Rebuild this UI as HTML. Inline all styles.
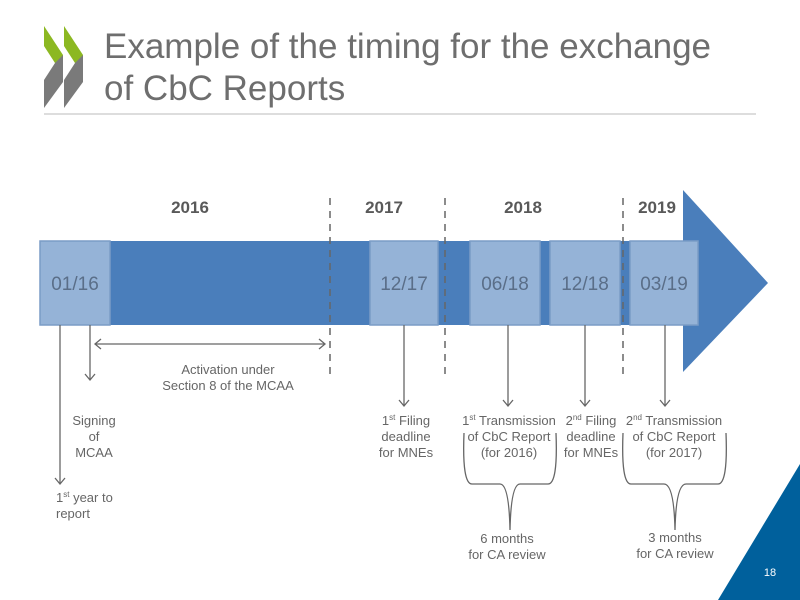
<!DOCTYPE html>
<html><head><meta charset="utf-8"><style>
body{margin:0;background:#fff;}
svg{display:block;font-family:"Liberation Sans",sans-serif;}
</style></head><body>
<svg width="800" height="600" viewBox="0 0 800 600">
<polygon points="44,26 63,55 63,61 55,63 44,46" fill="#8cb822"/>
<polygon points="64,26 83,55 83,61 75,63 64,46" fill="#8cb822"/>
<polygon points="63,55 63,82 44,108 44,80 55,63" fill="#7a7a7a"/>
<polygon points="83,55 83,82 64,108 64,80 75,63" fill="#7a7a7a"/>
<text x="104" y="58" font-size="35" fill="#6e6e6e">Example of the timing for the exchange</text>
<text x="104" y="100" font-size="35" fill="#6e6e6e">of CbC Reports</text>
<line x1="44" y1="114" x2="756" y2="114" stroke="#bbb" stroke-width="1"/>
<polygon points="718,600 800,464 800,600" fill="#00609c"/>
<text x="770" y="576" font-size="11" fill="#fff" text-anchor="middle">18</text>

<rect x="40" y="241" width="645" height="84" fill="#4a7ebb"/>
<polygon points="683,190 768,283 683,372" fill="#4a7ebb"/>
<g fill="#95b3d7" stroke="#7a9cc6" stroke-width="1.5">
<rect x="40" y="241" width="70" height="84"/>
<rect x="370" y="241" width="68" height="84"/>
<rect x="470" y="241" width="70" height="84"/>
<rect x="550" y="241" width="70" height="84"/>
<rect x="630" y="241" width="68" height="84"/>
</g>
<g font-size="19" fill="#5a6e88" text-anchor="middle">
<text x="75" y="290">01/16</text><text x="404" y="290">12/17</text>
<text x="505" y="290">06/18</text><text x="585" y="290">12/18</text><text x="664" y="290">03/19</text>
</g>
<g font-size="17" font-weight="bold" fill="#595959" text-anchor="middle">
<text x="190" y="213">2016</text><text x="384" y="213">2017</text><text x="523" y="213">2018</text><text x="657" y="213">2019</text>
</g>
<g stroke="#666" stroke-width="1.5" stroke-dasharray="7,6">
<line x1="330" y1="198" x2="330" y2="375"/><line x1="445" y1="198" x2="445" y2="375"/><line x1="623" y1="198" x2="623" y2="375"/>
</g>
<g stroke="#666" stroke-width="1.3" fill="none">
<line x1="60" y1="325" x2="60" y2="484"/><polyline points="55,478 60,484 65,478"/>
<line x1="90" y1="325" x2="90" y2="380"/><polyline points="85,374 90,380 95,374"/>
<line x1="95" y1="344" x2="325" y2="344"/><polyline points="101,339 95,344 101,349"/><polyline points="319,339 325,344 319,349"/>
<line x1="404" y1="325" x2="404" y2="406"/><polyline points="399,400 404,406 409,400"/>
<line x1="508" y1="325" x2="508" y2="406"/><polyline points="503,400 508,406 513,400"/>
<line x1="585" y1="325" x2="585" y2="406"/><polyline points="580,400 585,406 590,400"/>
<line x1="665" y1="325" x2="665" y2="406"/><polyline points="660,400 665,406 670,400"/>
<path d="M464,433 Q462,484 472,484 L500,484 Q509,484 510,530 Q511,484 520,484 L548,484 Q558,484 556,433"/>
<path d="M623,433 Q621,484 631,484 L664,484 Q674,484 675,530 Q676,484 686,484 L718,484 Q728,484 726,433"/>
</g>
<g font-size="13" fill="#666" text-anchor="middle">
<text x="228" y="374">Activation  under</text><text x="228" y="390">Section 8 of the MCAA</text>
<text x="94" y="425">Signing</text><text x="94" y="441">of</text><text x="94" y="457">MCAA</text>
<text x="406" y="425">1<tspan font-size="8" dy="-5">st</tspan><tspan dy="5"> Filing</tspan></text><text x="406" y="441">deadline</text><text x="406" y="457">for MNEs</text>
<text x="509" y="425">1<tspan font-size="8" dy="-5">st</tspan><tspan dy="5"> Transmission</tspan></text><text x="509" y="441">of CbC Report</text><text x="509" y="457">(for 2016)</text>
<text x="591" y="425">2<tspan font-size="8" dy="-5">nd</tspan><tspan dy="5"> Filing</tspan></text><text x="591" y="441">deadline</text><text x="591" y="457">for MNEs</text>
<text x="674" y="425">2<tspan font-size="8" dy="-5">nd</tspan><tspan dy="5"> Transmission</tspan></text><text x="674" y="441">of CbC Report</text><text x="674" y="457">(for 2017)</text>
<text x="507" y="543">6 months</text><text x="507" y="559">for CA review</text>
<text x="675" y="542">3 months</text><text x="675" y="558">for CA review</text>
</g>
<g font-size="13" fill="#666">
<text x="56" y="502">1<tspan font-size="8" dy="-5">st</tspan><tspan dy="5"> year to</tspan></text><text x="56" y="518">report</text>
</g>
</svg>
</body></html>
